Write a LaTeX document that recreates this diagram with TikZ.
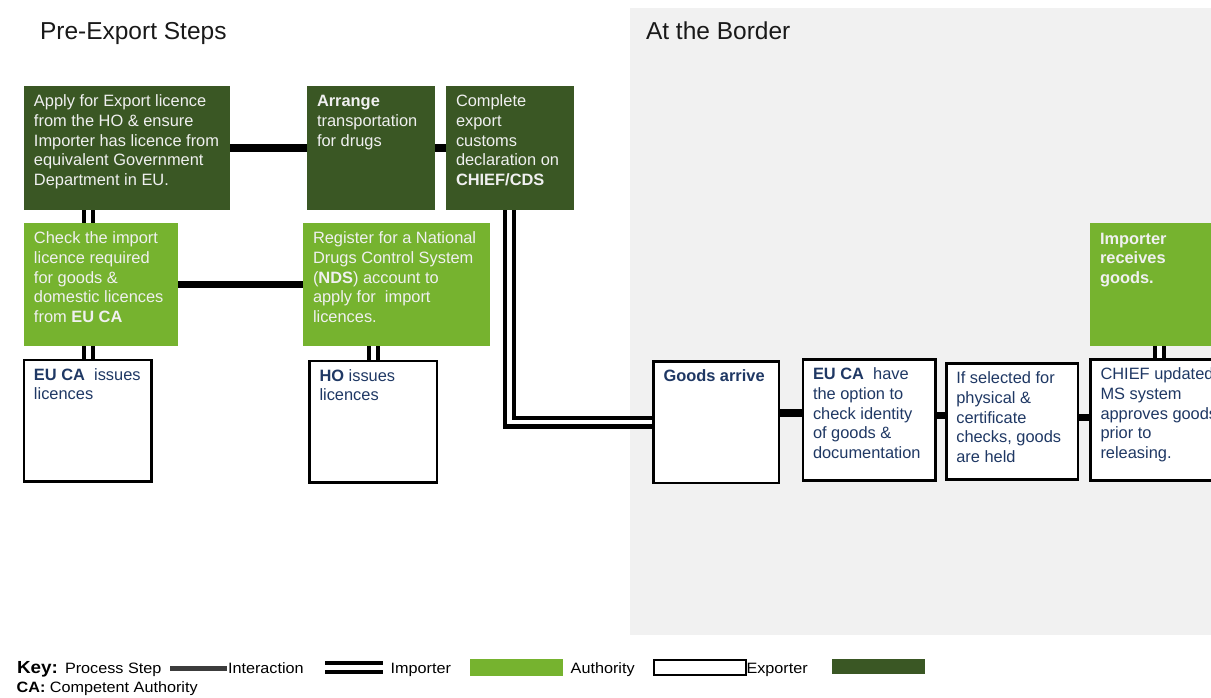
\documentclass[tikz,border=0pt]{standalone}
\usepackage{fontspec}
\setmainfont{Liberation Sans}
\newfontfamily\legendfont[FakeStretch=1.08]{Liberation Sans}
\usetikzlibrary{calc}
\definecolor{dkgreen}{RGB}{58,87,36}
\definecolor{ltgreen}{RGB}{118,179,47}
\definecolor{navy}{RGB}{31,56,100}
\definecolor{bggray}{RGB}{241,241,241}
\definecolor{boxtxt}{RGB}{240,240,240}
\definecolor{keygray}{RGB}{60,60,60}
\pgfdeclarelayer{bg}\pgfdeclarelayer{conn}\pgfsetlayers{bg,conn,main}
\newcommand\bxt[3]{\begin{minipage}[t][#2pt][t]{#1pt}\begin{tabular}[t]{@{}l@{}}#3\end{tabular}\end{minipage}}
\begin{document}
\begin{tikzpicture}[x=1pt,y=-1pt,
 every node/.style={outer sep=0pt},
 boxfont/.style={font=\fontsize{16.4}{19.7}\selectfont},
 dkbox/.style={boxfont, fill=dkgreen, text=boxtxt, inner xsep=10pt, inner ysep=7pt, anchor=north west},
 ltbox/.style={boxfont, fill=ltgreen, text=boxtxt, inner xsep=10pt, inner ysep=7pt, anchor=north west},
 whbox/.style={boxfont, draw=black, line width=2.5pt, fill=white, text=navy, inner xsep=10pt, inner ysep=6.5pt, anchor=north west},
 inter/.style={draw=black, line width=7.7pt},
 imp/.style={draw=black, line width=4.3pt, double=white, double distance=4.5pt, line join=miter},
 title/.style={font=\fontsize{24.5}{29}\selectfont, anchor=base west, inner sep=0pt, text=black!90},
 keytxt/.style={font=\legendfont\fontsize{15}{18}\selectfont, anchor=base west, inner sep=0pt, text=black}
]
\path[use as bounding box] (0,0) rectangle (1211,697);
\clip (0,0) rectangle (1211,697);
\begin{pgfonlayer}{bg}
\fill[bggray] (630,8) rectangle (1211,635);
\end{pgfonlayer}

\node[title] (t1) at (40,39.5) {Pre-Export Steps};
\node[title] (t2) at (646,39.5) {At the Border};

\node[dkbox] (A) at (24,86) {\bxt{186}{110}{Apply for Export licence\\from the HO \& ensure\\Importer has licence from\\equivalent Government\\Department in EU.}};
\node[dkbox] (B) at (307,86) {\bxt{108}{110}{\textbf{Arrange}\\transportation\\for drugs}};
\node[dkbox] (C) at (446,86) {\bxt{108}{110}{Complete\\export\\customs\\declaration on\\\textbf{CHIEF/CDS}}};
\node[ltbox] (D) at (24,223) {\bxt{134}{109}{Check the import\\licence required\\for goods \&\\domestic licences\\from \textbf{EU CA}}};
\node[ltbox] (E) at (303,223) {\bxt{167}{109}{Register for a National\\Drugs Control System\\(\textbf{NDS}) account to\\apply for\ \ import\\licences.}};
\node[whbox] (F) at (24,360) {\bxt{107.5}{108.5}{\textbf{EU CA}\ \ issues\\licences}};
\node[whbox] (G) at (309.5,361) {\bxt{107.5}{108.5}{\textbf{HO} issues\\licences}};
\node[whbox] (H) at (653.5,361.3) {\bxt{105.3}{108.8}{\textbf{Goods arrive}}};
\node[whbox] (I) at (803,359.5) {\bxt{112.5}{108}{\textbf{EU CA}\ \ have\\the option to\\check identity\\of goods \&\\documentation}};
\node[whbox] (J) at (946.3,363.5) {\bxt{111.7}{103}{If selected for\\physical \&\\certificate\\checks, goods\\are held}};
\node[whbox] (K) at (1090.5,359.5) {\bxt{120}{108}{CHIEF updated\\MS system\\approves goods\\prior to\\releasing.}};
\node[ltbox] (L) at (1090,223.3) {\bxt{120}{108.7}{\textbf{Importer}\\\textbf{receives}\\\textbf{goods.}}};

\begin{pgfonlayer}{conn}
\draw[inter] (A.east) -- (B.west);
\draw[inter] (B.east) -- (C.west);
\draw[inter] (D.east) -- (E.west);
\draw[imp] ([xshift=64.3pt]A.south west) -- ([xshift=64.3pt]D.north west);
\draw[imp] ([xshift=64.3pt]D.south west) -- ([xshift=64.3pt]F.north west);
\draw[imp] ([xshift=63.8pt]G.north west) -- ([xshift=63.8pt]G.north west |- E.south);
\draw[imp] ([xshift=-0.7pt]C.south) |- (H.west);
\draw[inter] ([yshift=9pt]H.east) -- ([yshift=9pt]H.east -| I.west);
\draw[inter] ([yshift=4.5pt]I.east) -- ([yshift=4.5pt]I.east -| J.west);
\draw[inter] ([yshift=4pt]J.east) -- ([yshift=4pt]J.east -| K.west);
\draw[imp] ([xshift=69pt]K.north west) -- ([xshift=69pt]K.north west |- L.south);
\end{pgfonlayer}

\node[keytxt] (kkey) at (17,673.5) {\fontsize{17.5}{20}\selectfont\bfseries Key:};
\node[keytxt] (kproc) at (65,673.5) {Process Step};
\fill[keygray] (170,665.5) rectangle (227,671);
\node[keytxt] (kint) at (228,673.5) {Interaction};
\draw[imp] (325,667.5) -- (383,667.5);
\node[keytxt] (kimp) at (390.7,673.5) {Importer};
\fill[ltgreen] (470,659) rectangle (562.7,675.7);
\node[keytxt] (kauth) at (570.7,673.5) {Authority};
\draw[black, line width=2.5pt, fill=white] (654.2,660.2) rectangle (745.8,674.8);
\node[keytxt] (kexp) at (746.5,673.5) {Exporter};
\fill[dkgreen] (832,659) rectangle (925,674);
\node[keytxt] (kca) at (16.7,692) {\textbf{CA:} Competent Authority};
\end{tikzpicture}
\end{document}
